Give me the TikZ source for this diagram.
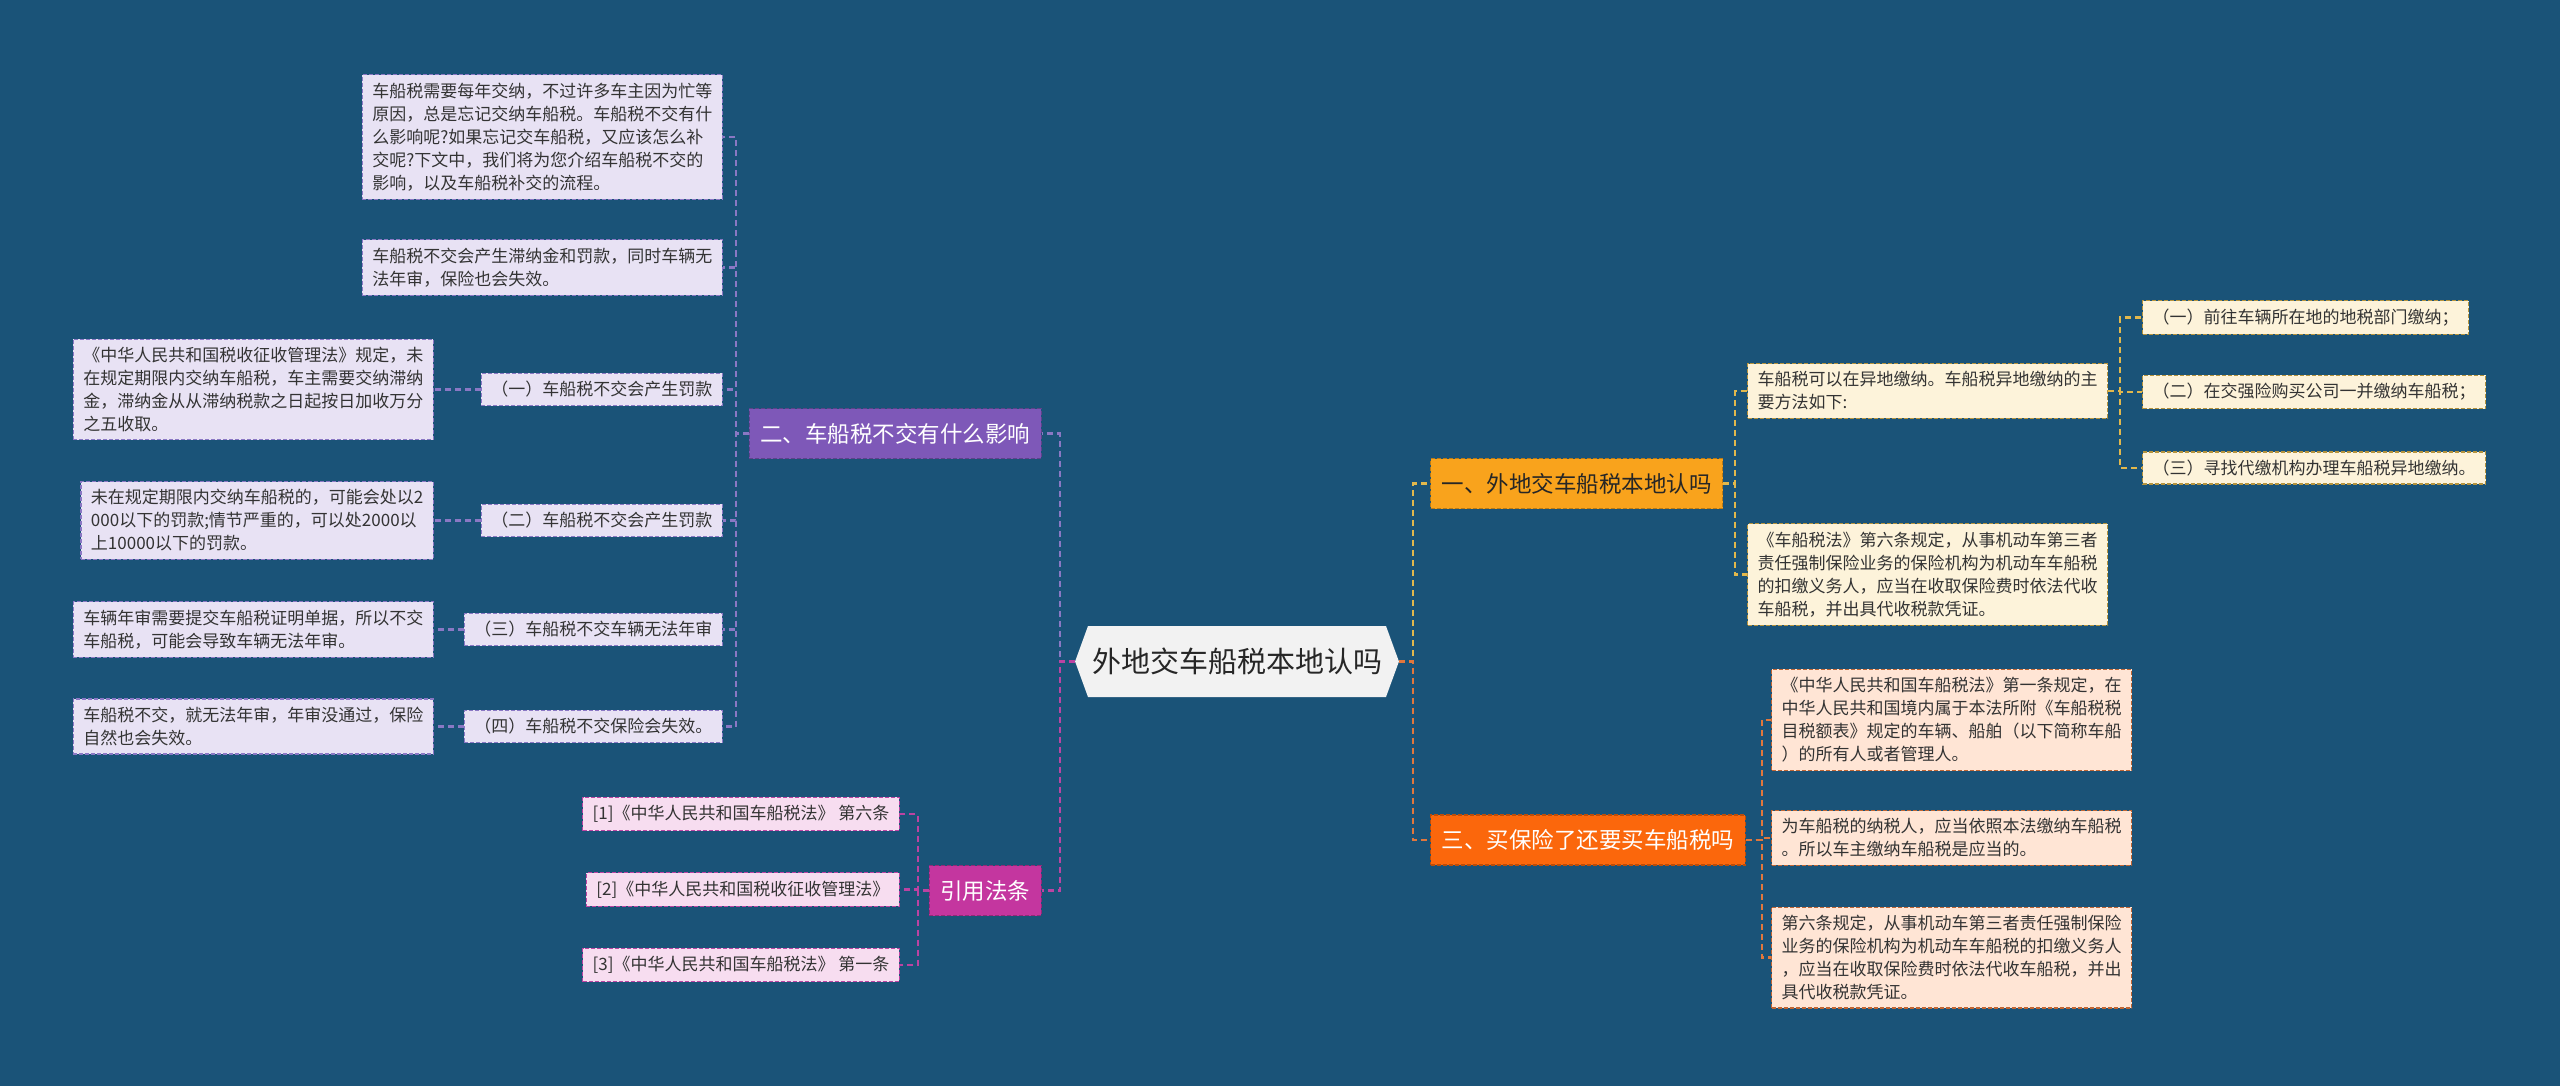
\documentclass[tikz,border=0pt]{standalone}
\usepackage{fontspec}
\newfontfamily\cjk{Noto Sans CJK SC}
\usetikzlibrary{shapes.symbols}

\definecolor{bg}{HTML}{1A5378}
\definecolor{rootfill}{HTML}{F2F2F2}
\definecolor{yifill}{HTML}{F9A31C}
\definecolor{sanfill}{HTML}{FB670C}
\definecolor{erfill}{HTML}{7E58B8}
\definecolor{yinfill}{HTML}{C4369F}
\definecolor{lavfill}{HTML}{E8E2F4}
\definecolor{pinkfill}{HTML}{F7DDF0}
\definecolor{creamfill}{HTML}{FDF3DA}
\definecolor{peachfill}{HTML}{FFE5D5}
\definecolor{yiline}{HTML}{E2B84C}
\definecolor{sanline}{HTML}{E2773C}
\definecolor{erline}{HTML}{8A78C4}
\definecolor{yinline}{HTML}{BC43A2}

\begin{document}
\begin{tikzpicture}[x=1pt, y=-1pt,
  root/.style={shape=signal, signal to=west and east, signal pointer angle=140,
    fill=rootfill, text=black!85, font=\cjk\fontsize{29}{34}\selectfont,
    minimum height=71pt, inner xsep=4pt},
  branch/.style={font=\cjk\fontsize{22.5}{27}\selectfont, inner xsep=11pt,
    minimum height=50pt, line width=1.2pt, dash pattern=on 4pt off 2pt},
  leaf/.style={font=\cjk\fontsize{17}{23}\selectfont, text=black!80, align=left,
    inner xsep=10pt, inner ysep=8pt, line width=1.2pt, dash pattern=on 4pt off 2pt},
  conn/.style={line width=2.2pt, dash pattern=on 6pt off 4pt}]

  \fill[bg] (0,0) rectangle (2560,1086);
  \useasboundingbox (0,0) rectangle (2560,1086);

  \node[root] (root) at (1237,661.5) {外地交车船税本地认吗};

  % 右侧：一、三
  \node[branch, fill=yifill, draw=yifill!75!black, text=black!85, anchor=west] (b1) at (1430,483.5) {一、外地交车船税本地认吗};
  \node[branch, fill=sanfill, draw=sanfill!75!black, text=white, anchor=west] (b3) at (1430,840) {三、买保险了还要买车船税吗};

  \node[leaf, fill=creamfill, draw=yiline!80!black, anchor=west] (y1) at (1747,391) {车船税可以在异地缴纳。车船税异地缴纳的主\\要方法如下:};
  \node[leaf, fill=creamfill, draw=yiline!80!black, anchor=west] (y2) at (1747,574.5) {《车船税法》第六条规定，从事机动车第三者\\责任强制保险业务的保险机构为机动车车船税\\的扣缴义务人，应当在收取保险费时依法代收\\车船税，并出具代收税款凭证。};
  \node[leaf, fill=creamfill, draw=yiline!80!black, anchor=west] (y11) at (2142,317.5) {（一）前往车辆所在地的地税部门缴纳；};
  \node[leaf, fill=creamfill, draw=yiline!80!black, anchor=west] (y12) at (2142,392) {（二）在交强险购买公司一并缴纳车船税；};
  \node[leaf, fill=creamfill, draw=yiline!80!black, anchor=west] (y13) at (2142,468) {（三）寻找代缴机构办理车船税异地缴纳。};

  \node[leaf, fill=peachfill, draw=sanline!85!black, anchor=west] (s1) at (1771,720) {《中华人民共和国车船税法》第一条规定，在\\中华人民共和国境内属于本法所附《车船税税\\目税额表》规定的车辆、船舶（以下简称车船\\）的所有人或者管理人。};
  \node[leaf, fill=peachfill, draw=sanline!85!black, anchor=west] (s2) at (1771,838) {为车船税的纳税人，应当依照本法缴纳车船税\\。所以车主缴纳车船税是应当的。};
  \node[leaf, fill=peachfill, draw=sanline!85!black, anchor=west] (s3) at (1771,957.5) {第六条规定，从事机动车第三者责任强制保险\\业务的保险机构为机动车车船税的扣缴义务人\\，应当在收取保险费时依法代收车船税，并出\\具代收税款凭证。};

  % 左侧：二、引用法条
  \node[branch, fill=erfill, draw=erfill!75!black, text=white, anchor=east] (b2) at (1042,433.5) {二、车船税不交有什么影响};
  \node[branch, fill=yinfill, draw=yinfill!75!black, text=white, anchor=east] (b4) at (1042,890.5) {引用法条};

  \node[leaf, fill=lavfill, draw=erline, anchor=east] (e1) at (723,137) {车船税需要每年交纳，不过许多车主因为忙等\\原因，总是忘记交纳车船税。车船税不交有什\\么影响呢?如果忘记交车船税，又应该怎么补\\交呢?下文中，我们将为您介绍车船税不交的\\影响，以及车船税补交的流程。};
  \node[leaf, fill=lavfill, draw=erline, anchor=east] (e2) at (723,267.5) {车船税不交会产生滞纳金和罚款，同时车辆无\\法年审，保险也会失效。};
  \node[leaf, fill=lavfill, draw=erline, anchor=east] (e3) at (723,389.5) {（一）车船税不交会产生罚款};
  \node[leaf, fill=lavfill, draw=erline, anchor=east] (e4) at (723,520.5) {（二）车船税不交会产生罚款};
  \node[leaf, fill=lavfill, draw=erline, anchor=east] (e5) at (723,629.5) {（三）车船税不交车辆无法年审};
  \node[leaf, fill=lavfill, draw=erline, anchor=east] (e6) at (723,726.5) {（四）车船税不交保险会失效。};

  \node[leaf, fill=lavfill, draw=erline, anchor=east] (e31) at (434,389.5) {《中华人民共和国税收征收管理法》规定，未\\在规定期限内交纳车船税，车主需要交纳滞纳\\金，滞纳金从从滞纳税款之日起按日加收万分\\之五收取。};
  \node[leaf, fill=lavfill, draw=erline, anchor=east] (e41) at (434,520.5) {未在规定期限内交纳车船税的，可能会处以2\\000以下的罚款;情节严重的，可以处2000以\\上10000以下的罚款。};
  \node[leaf, fill=lavfill, draw=erline, anchor=east] (e51) at (434,629.5) {车辆年审需要提交车船税证明单据，所以不交\\车船税，可能会导致车辆无法年审。};
  \node[leaf, fill=lavfill, draw=erline, anchor=east] (e61) at (434,726.5) {车船税不交，就无法年审，年审没通过，保险\\自然也会失效。};

  \node[leaf, fill=pinkfill, draw=yinline, anchor=east] (r1) at (900,814) {[1]《中华人民共和国车船税法》 第六条};
  \node[leaf, fill=pinkfill, draw=yinline, anchor=east] (r2) at (900,889.5) {[2]《中华人民共和国税收征收管理法》};
  \node[leaf, fill=pinkfill, draw=yinline, anchor=east] (r3) at (900,965) {[3]《中华人民共和国车船税法》 第一条};

  % 连线
  \draw[conn, erline] (root.west) -- ++(-15,0) |- (b2.east);
  \draw[conn, yinline] (root.west) -- ++(-15,0) |- (b4.east);
  \draw[conn, yiline] (root.east) -- ++(14,0) |- (b1.west);
  \draw[conn, sanline] (root.east) -- ++(14,0) |- (b3.west);

  \foreach \c in {y1,y2}
    \draw[conn, yiline] (b1.east) -- ++(12,0) |- (\c.west);
  \foreach \c in {y11,y12,y13}
    \draw[conn, yiline] (y1.east) -- ++(12,0) |- (\c.west);
  \foreach \c in {s1,s2,s3}
    \draw[conn, sanline] (b3.east) -- ++(16,0) |- (\c.west);
  \foreach \c in {e1,e2,e3,e4,e5,e6}
    \draw[conn, erline] (b2.west) -- ++(-13,0) |- (\c.east);
  \foreach \a/\b in {e3/e31,e4/e41,e5/e51,e6/e61}
    \draw[conn, erline] (\a.west) -- (\b.east);
  \foreach \c in {r1,r2,r3}
    \draw[conn, yinline] (b4.west) -- ++(-11,0) |- (\c.east);
\end{tikzpicture}
\end{document}
